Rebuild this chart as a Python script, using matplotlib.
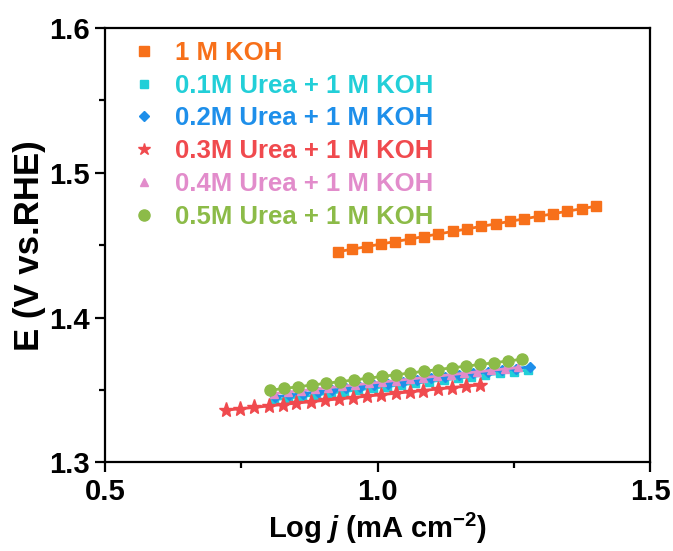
import matplotlib
matplotlib.use('Agg')
import matplotlib.pyplot as plt
from matplotlib.lines import Line2D
from matplotlib.ticker import MultipleLocator

plt.rcParams['font.family'] = ['Liberation Sans', 'DejaVu Sans']
plt.rcParams['font.weight'] = 'bold'
plt.rcParams['mathtext.fontset'] = 'custom'
plt.rcParams['mathtext.rm'] = 'Liberation Sans:bold'
plt.rcParams['mathtext.it'] = 'Liberation Sans:italic:bold'
plt.rcParams['mathtext.bf'] = 'Liberation Sans:bold'

labels = ['1 M KOH', '0.1M Urea + 1 M KOH', '0.2M Urea + 1 M KOH',
          '0.3M Urea + 1 M KOH', '0.4M Urea + 1 M KOH', '0.5M Urea + 1 M KOH']

# Tafel data (log j, E)
x_koh = [0.927, 0.953, 0.980, 1.006, 1.032, 1.059, 1.085, 1.111, 1.138, 1.164,
         1.190, 1.217, 1.243, 1.269, 1.296, 1.322, 1.348, 1.375, 1.401]
y_koh = [1.4455, 1.4472, 1.4490, 1.4508, 1.4525, 1.4542, 1.4560, 1.4577, 1.4595, 1.4612,
         1.4630, 1.4647, 1.4665, 1.4682, 1.4700, 1.4717, 1.4735, 1.4752, 1.4770]

x_u01 = [0.810, 0.836, 0.862, 0.888, 0.914, 0.939, 0.965, 0.991, 1.017, 1.043,
         1.069, 1.095, 1.121, 1.147, 1.172, 1.198, 1.224, 1.250, 1.276]
y_u01 = [1.3432, 1.3443, 1.3455, 1.3466, 1.3478, 1.3489, 1.3500, 1.3512, 1.3523, 1.3535,
         1.3546, 1.3557, 1.3569, 1.3580, 1.3592, 1.3603, 1.3614, 1.3626, 1.3637]

x_u02 = [0.812, 0.838, 0.864, 0.890, 0.916, 0.942, 0.968, 0.994, 1.020, 1.046,
         1.072, 1.098, 1.124, 1.150, 1.176, 1.202, 1.228, 1.254, 1.280]
y_u02 = [1.3452, 1.3464, 1.3475, 1.3487, 1.3498, 1.3510, 1.3521, 1.3533, 1.3544, 1.3556,
         1.3568, 1.3579, 1.3591, 1.3602, 1.3614, 1.3625, 1.3637, 1.3648, 1.3660]

x_u03 = [0.722, 0.748, 0.774, 0.800, 0.826, 0.851, 0.877, 0.903, 0.929, 0.955,
         0.981, 1.007, 1.033, 1.059, 1.084, 1.110, 1.136, 1.162, 1.188]
y_u03 = [1.3360, 1.3370, 1.3379, 1.3389, 1.3399, 1.3409, 1.3418, 1.3428, 1.3438, 1.3447,
         1.3457, 1.3467, 1.3477, 1.3486, 1.3496, 1.3506, 1.3516, 1.3525, 1.3535]

x_u04 = [0.810, 0.835, 0.860, 0.885, 0.910, 0.934, 0.959, 0.984, 1.009, 1.034,
         1.059, 1.084, 1.109, 1.134, 1.158, 1.183, 1.208, 1.233, 1.258]
y_u04 = [1.3475, 1.3485, 1.3495, 1.3505, 1.3515, 1.3525, 1.3535, 1.3545, 1.3555, 1.3565,
         1.3575, 1.3585, 1.3595, 1.3605, 1.3615, 1.3625, 1.3635, 1.3645, 1.3655]

x_u05 = [0.803, 0.829, 0.854, 0.880, 0.906, 0.931, 0.957, 0.983, 1.008, 1.034,
         1.060, 1.085, 1.111, 1.137, 1.162, 1.188, 1.214, 1.239, 1.265]
y_u05 = [1.3498, 1.3510, 1.3522, 1.3534, 1.3546, 1.3557, 1.3569, 1.3581, 1.3593, 1.3605,
         1.3617, 1.3629, 1.3641, 1.3653, 1.3664, 1.3676, 1.3688, 1.3700, 1.3712]

colors = ['#F7701A', '#22CFD8', '#1E8FEA', '#F04A4E', '#E28CCB', '#8CBB48']
markers = ['s', 's', 'D', '*', '^', 'o']
msizes = [6.5, 5.5, 5.5, 11, 5.5, 8]

xs = [x_koh, x_u01, x_u02, x_u03, x_u04, x_u05]
ys = [y_koh, y_u01, y_u02, y_u03, y_u04, y_u05]

fig = plt.figure(figsize=(6.73, 5.51), dpi=100)
ax = fig.add_axes([0.156, 0.161, 0.810, 0.788])

for i in range(6):
    ax.plot(xs[i], ys[i], color=colors[i], marker=markers[i], ms=msizes[i],
            lw=2, mec=colors[i], zorder=3 + i)

ax.set_xlim(0.5, 1.5)
ax.set_ylim(1.3, 1.6)
ax.xaxis.set_major_locator(MultipleLocator(0.5))
ax.xaxis.set_minor_locator(MultipleLocator(0.25))
ax.yaxis.set_major_locator(MultipleLocator(0.1))
ax.yaxis.set_minor_locator(MultipleLocator(0.05))
ax.xaxis.set_major_formatter(plt.FormatStrFormatter('%.1f'))
ax.yaxis.set_major_formatter(plt.FormatStrFormatter('%.1f'))

ax.tick_params(which='major', direction='out', length=7, width=1.6, labelsize=21, pad=4)
ax.tick_params(which='minor', direction='out', length=4, width=1.6)
for s in ax.spines.values():
    s.set_linewidth(1.6)

ax.set_xlabel(r'Log $\it{j}$ (mA cm$^{-2}$)', fontsize=21, fontweight='bold', labelpad=4)
ax.set_ylabel('E (V vs.RHE)', fontsize=25, fontweight='bold', labelpad=2)

handles = [Line2D([], [], color=colors[i], marker=markers[i], ls='none',
                  ms=msizes[i] * (0.8 if markers[i] == '*' else 1.0))
           for i in range(6)]
leg = ax.legend(handles, labels, loc='upper left', bbox_to_anchor=(0.025, 1.0),
                frameon=False, fontsize=18.5, handlelength=1.0, handletextpad=0.7,
                labelspacing=0.34, borderaxespad=0.1)
for t, c in zip(leg.get_texts(), colors):
    t.set_color(c)
    t.set_fontweight('bold')

fig.savefig('out.png', dpi=100)
